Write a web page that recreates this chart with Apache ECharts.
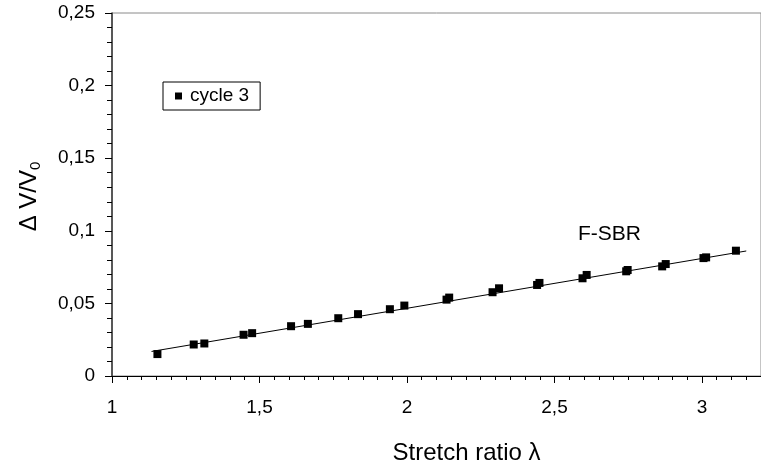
<!DOCTYPE html>
<html>
<head>
<meta charset="utf-8">
<script src="https://cdn.jsdelivr.net/npm/echarts@6/dist/echarts.min.js"></script>
<style>html,body{margin:0;padding:0;background:#fff;}#chart{width:761px;height:470px;}</style>
</head>
<body>
<div id="chart"></div>
<script>
// Stretch ratio (x) and ΔV/V0 (y)
const stretchRatio = [1.154, 1.277, 1.313, 1.446, 1.475, 1.607, 1.664, 1.767, 1.834, 1.942, 1.991,
  2.134, 2.143, 2.290, 2.312, 2.441, 2.449, 2.595, 2.609, 2.743, 2.748, 2.865, 2.877, 3.005, 3.014, 3.115];
const deltaV = [0.0151, 0.0217, 0.0224, 0.0284, 0.0295, 0.0343, 0.0359, 0.0398, 0.0426, 0.0460, 0.0485,
  0.0526, 0.0540, 0.0577, 0.0604, 0.0627, 0.0641, 0.0673, 0.0696, 0.0721, 0.0730, 0.0755, 0.0771, 0.0812, 0.0817, 0.0863];
// linear fit line end points
const fitX = [1.134, 3.150];
const fitY = [0.0169, 0.0861];
const seriesName = 'cycle 3';
const curveLabel = 'F-SBR';

const FONT = 'Arial, "Liberation Sans", sans-serif';
const fmt = v => String(Number(v.toFixed(3))).replace('.', ',');

const chart = echarts.init(document.getElementById('chart'));
chart.setOption({
  animation: false,
  backgroundColor: '#fff',
  textStyle: { fontFamily: FONT },
  grid: { left: 112, top: 13, right: -7, bottom: 93, show: true, borderColor: '#8a8a8a', borderWidth: 1 },
  legend: {
    data: [seriesName],
    left: 163, top: 82,
    orient: 'vertical',
    icon: 'rect',
    itemWidth: 7, itemHeight: 7, itemGap: 0,
    padding: [4, 11, 4, 12],
    borderColor: '#000', borderWidth: 1,
    itemStyle: { opacity: 1, color: '#000' },
    textStyle: { fontFamily: FONT, fontSize: 19, lineHeight: 20, color: '#000', padding: [0, 0, 0, 3] }
  },
  xAxis: {
    type: 'value', min: 1, max: 3.2, interval: 0.5,
    name: 'Stretch ratio λ', nameLocation: 'middle', nameGap: 65,
    nameTextStyle: { fontFamily: FONT, fontSize: 24, color: '#000', padding: [0, 0, 0, 60] },
    axisLine: { onZero: false, lineStyle: { color: '#000', width: 1 } },
    axisTick: { inside: false, length: 7, lineStyle: { color: '#000' } },
    minorTick: { show: true, splitNumber: 10, length: 4, lineStyle: { color: '#000' } },
    axisLabel: { margin: 22, fontFamily: FONT, fontSize: 19, color: '#000', formatter: fmt, showMaxLabel: false },
    splitLine: { show: false }
  },
  yAxis: {
    type: 'value', min: 0, max: 0.25, interval: 0.05,
    name: '{a|Δ V/V}{b|0}', nameLocation: 'middle', nameGap: 69,
    nameTextStyle: {
      fontFamily: FONT, color: '#000', padding: [0, 4, 0, 0],
      rich: {
        a: { fontFamily: FONT, fontSize: 24, lineHeight: 26, verticalAlign: 'top', color: '#000' },
        b: { fontFamily: FONT, fontSize: 15, lineHeight: 15, padding: [20, 0, 0, 0], verticalAlign: 'bottom', color: '#000' }
      }
    },
    axisLine: { onZero: false, lineStyle: { color: '#333', width: 1.5 } },
    axisTick: { inside: false, length: 7, lineStyle: { color: '#000' } },
    minorTick: { show: true, splitNumber: 5, length: 5, lineStyle: { color: '#000' } },
    axisLabel: { margin: 17, fontFamily: FONT, fontSize: 19, color: '#000', formatter: fmt },
    splitLine: { show: false }
  },
  graphic: [{
    type: 'text', left: 578, top: 224,
    style: { text: curveLabel, fontFamily: FONT, fontSize: 21, fill: '#000' }
  }],
  series: [
    {
      name: 'fit', type: 'line',
      data: fitX.map((x, i) => [x, fitY[i]]),
      showSymbol: false, symbol: 'none',
      lineStyle: { color: '#000', width: 1 },
      silent: true, z: 2
    },
    {
      name: seriesName, type: 'scatter',
      data: stretchRatio.map((x, i) => [x, deltaV[i]]),
      symbol: 'rect', symbolSize: 8,
      itemStyle: { color: '#000', opacity: 1 }, z: 3
    }
  ]
});
</script>
</body>
</html>
